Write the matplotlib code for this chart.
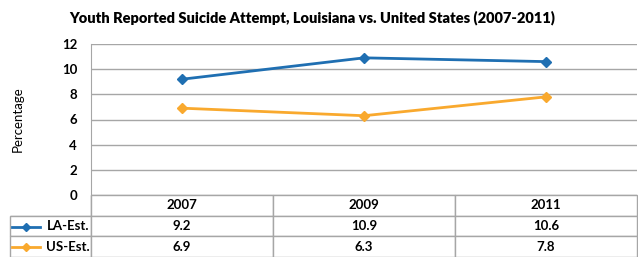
import numpy as np
import matplotlib.pyplot as plt

plt.rcParams['font.family'] = ['Lato', 'DejaVu Sans']

years = ['2007', '2009', '2011']
la_est = [9.2, 10.9, 10.6]
us_est = [6.9, 6.3, 7.8]
series_names = ['LA-Est.', 'US-Est.']
blue = '#1f6fb2'
orange = '#f9a92e'
grid_col = '#a6a6a6'

W, H = 638, 257
fig = plt.figure(figsize=(W / 100, H / 100), dpi=100)
x0, x1, ytop, ybot = 91, 637, 44, 195
ax = fig.add_axes([x0 / W, 1 - ybot / H, (x1 - x0) / W, (ybot - ytop) / H])

x = np.arange(len(years))
ax.plot(x, la_est, color=blue, lw=2, marker='D', ms=5.5, zorder=3)
ax.plot(x, us_est, color=orange, lw=2, marker='D', ms=5.5, zorder=3)
ax.set_xlim(-0.5, len(years) - 0.5)
ax.set_ylim(0, 12)
ax.set_yticks(range(0, 13, 2))
ax.yaxis.grid(True, color=grid_col, lw=1)
ax.set_axisbelow(True)
ax.set_xticks([])
for s in ['top', 'right', 'bottom']:
    ax.spines[s].set_visible(False)
ax.spines['left'].set_color(grid_col)
ax.tick_params(axis='y', length=0, pad=10, labelsize=9.5)
for t in ax.get_yticklabels():
    t.set_fontweight('bold')
ax.set_ylabel('Percentage', fontsize=9.5, labelpad=27)

fig.text(0.49, 1 - 18 / H, 'Youth Reported Suicide Attempt, Louisiana vs. United States (2007-2011)',
         ha='center', va='center', fontsize=10.5, fontweight='heavy')

# data table under the plot
rows = [[series_names[0]] + [f'{v:.1f}' for v in la_est],
        [series_names[1]] + [f'{v:.1f}' for v in us_est]]
lab_w = (x0 - 10) / (x1 - x0)
th = (257 - ybot) / (ybot - ytop)
tab = ax.table(cellText=rows, colLabels=[''] + years,
               colWidths=[81, 182, 182, 182], cellLoc='center',
               bbox=[-lab_w, -th, 1 + lab_w, th])
tab.auto_set_font_size(False)
for (r, c), cell in tab.get_celld().items():
    cell.set_edgecolor(grid_col)
    cell.set_linewidth(1)
    cell.get_text().set_fontsize(9.5)
    cell.get_text().set_fontweight('bold')
    if r == 0 and c == 0:
        cell.visible_edges = 'BR'
    if c == 0 and r > 0:
        cell.get_text().set_ha('right')
        cell.PAD = 0.02

# legend keys in the label column
for i, col in enumerate([blue, orange]):
    yk = -(217 - ybot + 10 + 20 * i) / (ybot - ytop)
    ax.plot([(12 - x0) / (x1 - x0), (40 - x0) / (x1 - x0)], [yk, yk],
            color=col, lw=2, transform=ax.transAxes, clip_on=False)
    ax.plot([(26 - x0) / (x1 - x0)], [yk], color=col, marker='D', ms=4,
            transform=ax.transAxes, clip_on=False)

fig.savefig('out.png', dpi=100)
